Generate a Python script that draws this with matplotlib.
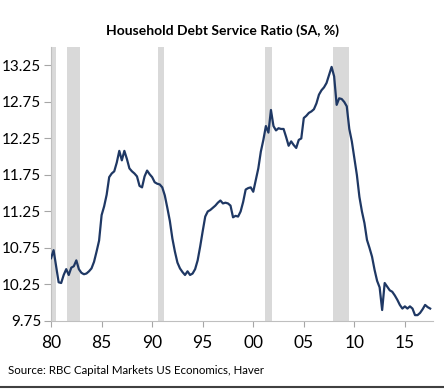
import matplotlib
matplotlib.use("Agg")
import matplotlib.pyplot as plt

plt.rcParams['font.family'] = ['Lato', 'DejaVu Sans']

# quarterly debt service ratio, 1980Q1 .. 2017Q3
dsr = [
    10.61, 10.72, 10.50, 10.28,   # 1980
    10.27, 10.38, 10.46, 10.38,   # 1981
    10.48, 10.50, 10.58, 10.46,   # 1982
    10.41, 10.39, 10.40, 10.43,   # 1983
    10.47, 10.56, 10.70, 10.85,   # 1984
    11.20, 11.32, 11.48, 11.72,   # 1985
    11.77, 11.80, 11.92, 12.08,   # 1986
    11.95, 12.08, 11.97, 11.84,   # 1987
    11.80, 11.77, 11.73, 11.60,   # 1988
    11.58, 11.73, 11.81, 11.76,   # 1989
    11.72, 11.65, 11.63, 11.62,   # 1990
    11.58, 11.47, 11.30, 11.12,   # 1991
    10.88, 10.70, 10.55, 10.47,   # 1992
    10.42, 10.38, 10.43, 10.38,   # 1993
    10.40, 10.46, 10.58, 10.77,   # 1994
    10.98, 11.18, 11.25, 11.27,   # 1995
    11.30, 11.33, 11.37, 11.40,   # 1996
    11.36, 11.37, 11.36, 11.33,   # 1997
    11.17, 11.19, 11.18, 11.25,   # 1998
    11.38, 11.55, 11.57, 11.58,   # 1999
    11.52, 11.68, 11.84, 12.07,   # 2000
    12.23, 12.42, 12.33, 12.64,   # 2001
    12.42, 12.36, 12.39, 12.38,   # 2002
    12.38, 12.27, 12.15, 12.21,   # 2003
    12.16, 12.12, 12.23, 12.25,   # 2004
    12.53, 12.56, 12.60, 12.62,   # 2005
    12.65, 12.73, 12.85, 12.91,   # 2006
    12.95, 13.01, 13.12, 13.23,   # 2007
    13.10, 12.71, 12.80, 12.79,   # 2008
    12.75, 12.69, 12.38, 12.21,   # 2009
    11.98, 11.75, 11.45, 11.25,   # 2010
    11.09, 10.86, 10.75, 10.63,   # 2011
    10.45, 10.30, 10.21, 9.90,    # 2012
    10.27, 10.22, 10.17, 10.15,   # 2013
    10.10, 10.04, 9.97, 9.92,     # 2014
    9.95, 9.92, 9.95, 9.92,       # 2015
    9.83, 9.83, 9.86, 9.91,       # 2016
    9.97, 9.94, 9.92,             # 2017
]
dates = [1980 + i / 4 for i in range(len(dsr))]

# NBER recessions (start, end) in decimal years
recessions = [(1980.0, 1980.5), (1981.55, 1982.9), (1990.55, 1991.2),
              (2001.2, 2001.9), (2007.9, 2009.5)]

yticks = [9.75, 10.25, 10.75, 11.25, 11.75, 12.25, 12.75, 13.25]
xticks = [1980, 1985, 1990, 1995, 2000, 2005, 2010, 2015]
xlabels = ['80', '85', '90', '95', '00', '05', '10', '15']

fig = plt.figure(figsize=(4.44, 3.90), dpi=100)
ax = fig.add_axes([0.115, 0.177, 0.86, 0.702])

for start, end in recessions:
    ax.axvspan(start, end, color='#d9d9d9', lw=0, zorder=1)

ax.plot(dates, dsr, color='#1f3864', lw=1.6, zorder=3)

ax.set_xlim(1980, 2017.77)
ax.set_ylim(9.75, 13.5)
ax.set_yticks(yticks)
ax.set_yticklabels([f'{v:.2f}' for v in yticks])
ax.set_xticks(xticks)
ax.set_xticklabels(xlabels)
ax.tick_params(axis='y', labelsize=11, length=5, color='#a6a6a6', pad=2)
ax.tick_params(axis='x', labelsize=12.5, length=4, color='#a6a6a6', pad=6)

for side in ['top', 'right']:
    ax.spines[side].set_visible(False)
for side in ['left', 'bottom']:
    ax.spines[side].set_color('#bfbfbf')
    ax.spines[side].set_linewidth(0.8)

fig.text(0.5, 0.922, 'Household Debt Service Ratio (SA, %)', ha='center',
         va='center', fontsize=10, fontweight='bold')
fig.text(0.018, 0.05, 'Source: RBC Capital Markets US Economics, Haver',
         ha='left', va='center', fontsize=8.3)
fig.add_artist(plt.Line2D([0, 1], [0.008, 0.008], color='#404040', lw=1.5))

fig.savefig('out.png', dpi=100)
